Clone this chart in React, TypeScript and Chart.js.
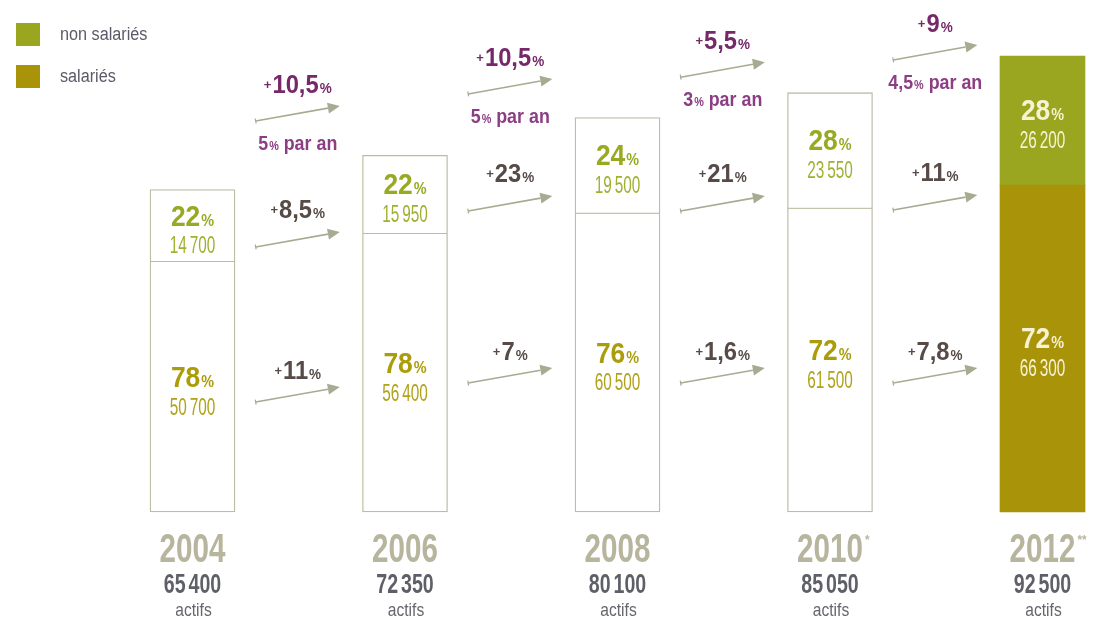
import React, { useEffect, useRef } from "react";
import { Chart, registerables } from "chart.js";

Chart.register(...registerables);

// ---------- data ----------
const years = ["2004", "2006", "2008", "2010", "2012"];
const yearMarks = ["", "", "", "*", "**"];
const seriesNames = ["non salariés", "salariés"];
const salaries = [50700, 56400, 60500, 61500, 66300];
const nonSalaries = [14700, 15950, 19500, 23550, 26200];
const salariesPct = [78, 78, 76, 72, 72];
const nonSalariesPct = [22, 22, 24, 28, 28];
const totals = [65400, 72350, 80100, 85050, 92500];
const totalGrowth = ["10,5", "10,5", "5,5", "9"];
const yearlyGrowth = ["5", "5", "3", "4,5"];
const nonSalGrowth = ["8,5", "23", "21", "11"];
const salGrowth = ["11", "7", "1,6", "7,8"];
const totalUnit = "actifs";
const perYearText = " par an";

// ---------- layout (annotation anchors, in data units of the y axis) ----------
const topArrowLevels = [79300, 84800, 88200, 91700];
const midArrowLevels = [53750, 61050, 61050, 61250];
const lowArrowLevels = [22300, 26150, 26150, 26150];

// ---------- styles ----------
const FAM = "'Liberation Sans', Arial, 'DejaVu Sans', sans-serif";
const C_NONSAL = "#9aa61f";
const C_SAL = "#a99309";
const C_OUTLINE = "#bcbba3";
const C_ARROW = "#a9aa92";
const C_PURPLE = "#762868";
const C_PURPLE_L = "#8b3e83";
const C_DARK = "#574b47";
const C_YEAR = "#b8b59e";
const C_TOTAL = "#5f5f68";
const C_ACTIFS = "#66666d";
const C_LEGEND = "#5c5a68";
const C_NS_PCT = "#98aa22";
const C_NS_NUM = "#a0b132";
const C_S_PCT = "#ab9c0a";
const C_S_NUM = "#b0a21a";
const C_FILLED_TXT = "#f6f2d2";

type Part = { t: string; size: number; bold?: boolean; color: string; sx?: number; dy?: number; gap?: number };

function partFont(p: Part) {
  return `${p.bold ? "bold " : ""}${p.size}px ${FAM}`;
}

function drawRich(ctx: CanvasRenderingContext2D, parts: Part[], x: number, baseline: number, align: "center" | "left" = "center") {
  ctx.save();
  const widths = parts.map((p) => {
    ctx.font = partFont(p);
    return ctx.measureText(p.t).width * (p.sx ?? 1) + (p.gap ?? 0);
  });
  const total = widths.reduce((a, b) => a + b, 0);
  const left = align === "center" ? x - total / 2 : x;
  let cx = left;
  ctx.textAlign = "left";
  ctx.textBaseline = "alphabetic";
  parts.forEach((p, i) => {
    ctx.font = partFont(p);
    ctx.fillStyle = p.color;
    ctx.save();
    ctx.translate(cx + (p.gap ?? 0), baseline + (p.dy ?? 0));
    ctx.scale(p.sx ?? 1, 1);
    ctx.fillText(p.t, 0, 0);
    ctx.restore();
    cx += widths[i];
  });
  ctx.restore();
  return { left, right: left + total };
}

// French number split into thousand groups, drawn with a thin gap
function numParts(n: number, base: Omit<Part, "t" | "gap">, gap: number): Part[] {
  const s = String(n);
  const groups: string[] = [];
  let rest = s;
  while (rest.length > 3) {
    groups.unshift(rest.slice(-3));
    rest = rest.slice(0, -3);
  }
  groups.unshift(rest);
  return groups.map((g, i) => ({ ...base, t: g, gap: i === 0 ? 0 : gap }));
}

function drawArrow(ctx: CanvasRenderingContext2D, x1: number, y1: number, x2: number, y2: number) {
  ctx.save();
  ctx.strokeStyle = C_ARROW;
  ctx.fillStyle = C_ARROW;
  ctx.lineWidth = 1.6;
  const ang = Math.atan2(y2 - y1, x2 - x1);
  const headLen = 12;
  const headW = 5.5;
  const bx = x2 - headLen * Math.cos(ang);
  const by = y2 - headLen * Math.sin(ang);
  ctx.beginPath();
  ctx.moveTo(x1, y1);
  ctx.lineTo(bx, by);
  ctx.stroke();
  ctx.beginPath();
  ctx.moveTo(x2, y2);
  ctx.lineTo(bx + headW * Math.sin(ang), by - headW * Math.cos(ang));
  ctx.lineTo(bx - headW * Math.sin(ang), by + headW * Math.cos(ang));
  ctx.closePath();
  ctx.fill();
  ctx.beginPath();
  ctx.moveTo(x1 + 2.5 * Math.sin(ang), y1 - 2.5 * Math.cos(ang));
  ctx.lineTo(x1 - 2.5 * Math.sin(ang), y1 + 2.5 * Math.cos(ang));
  ctx.lineWidth = 1.2;
  ctx.stroke();
  ctx.restore();
}

function growthParts(v: string, color: string): Part[] {
  return [
    { t: "+", size: 13, bold: true, color, dy: -4 },
    { t: v, size: 25, bold: true, color, sx: 0.95, gap: 1 },
    { t: "%", size: 15, bold: true, color, sx: 0.9, gap: 1 },
  ];
}

const overlay = {
  id: "overlay",
  afterDatasetsDraw(chart: any) {
    const ctx: CanvasRenderingContext2D = chart.ctx;
    const xs = chart.scales.x;
    const ys = chart.scales.y;
    const last = years.length - 1;

    // legend
    const legendColors = [C_NONSAL, C_SAL];
    seriesNames.forEach((name, i) => {
      const top = 23 + i * 42;
      ctx.fillStyle = legendColors[i];
      ctx.fillRect(16, top, 24, 23);
      drawRich(ctx, [{ t: name, size: 18, color: C_LEGEND, sx: 0.9 }], 60, top + 17, "left");
    });

    years.forEach((yr, i) => {
      const cx = xs.getPixelForValue(i);
      const y0 = ys.getPixelForValue(0);
      const ySal = ys.getPixelForValue(salaries[i]);
      const yTop = ys.getPixelForValue(salaries[i] + nonSalaries[i]);
      const midS = (y0 + ySal) / 2;
      const midN = (ySal + yTop) / 2;
      const filled = i === last;
      const col = (c: string) => (filled ? C_FILLED_TXT : c);

      // salariés segment
      drawRich(ctx, [
        { t: String(salariesPct[i]), size: 30, bold: true, color: col(C_S_PCT), sx: 0.88 },
        { t: "%", size: 16, bold: true, color: col(C_S_PCT), sx: 0.9, gap: 1 },
      ], cx, midS - 11 + 0.358 * 30);
      drawRich(ctx, numParts(salaries[i], { size: 24, color: col(C_S_NUM), sx: 0.64 }, 3), cx, midS + 19 + 0.358 * 24);
      // non salariés segment
      drawRich(ctx, [
        { t: String(nonSalariesPct[i]), size: 30, bold: true, color: col(C_NS_PCT), sx: 0.88 },
        { t: "%", size: 16, bold: true, color: col(C_NS_PCT), sx: 0.9, gap: 1 },
      ], cx, midN - 11 + 0.358 * 30);
      drawRich(ctx, numParts(nonSalaries[i], { size: 24, color: col(C_NS_NUM), sx: 0.64 }, 3), cx, midN + 19 + 0.358 * 24);

      // category labels
      const r = drawRich(ctx, [{ t: yr, size: 40, bold: true, color: C_YEAR, sx: 0.74 }], cx, 562);
      if (yearMarks[i]) {
        drawRich(ctx, [{ t: yearMarks[i], size: 13, bold: true, color: C_YEAR, sx: 0.9 }], r.right + 2, 544, "left");
      }
      drawRich(ctx, numParts(totals[i], { size: 28, bold: true, color: C_TOTAL, sx: 0.7 }, 3), cx, 593);
      drawRich(ctx, [{ t: totalUnit, size: 19, color: C_ACTIFS, sx: 0.82 }], cx + 1, 616);
    });

    // growth arrows
    for (let g = 0; g < years.length - 1; g++) {
      const xa = xs.getPixelForValue(g);
      const xb = xs.getPixelForValue(g + 1);
      const mid = (xa + xb) / 2 - 1;
      const half = (xb - xa) * 0.198;
      const rows: { level: number; label: Part[]; labelOff: number }[] = [
        { level: topArrowLevels[g], label: growthParts(totalGrowth[g], C_PURPLE), labelOff: -28 },
        { level: midArrowLevels[g], label: growthParts(nonSalGrowth[g], C_DARK), labelOff: -29 },
        { level: lowArrowLevels[g], label: growthParts(salGrowth[g], C_DARK), labelOff: -23 },
      ];
      rows.forEach((row, k) => {
        const ys1 = ys.getPixelForValue(row.level);
        drawArrow(ctx, mid - half, ys1, mid + half, ys1 - 15);
        drawRich(ctx, row.label, mid, ys1 + row.labelOff);
        if (k === 0) {
          drawRich(ctx, [
            { t: yearlyGrowth[g], size: 21, bold: true, color: C_PURPLE_L, sx: 0.85 },
            { t: "%", size: 12, bold: true, color: C_PURPLE_L, sx: 0.9, gap: 1 },
            { t: perYearText, size: 21, bold: true, color: C_PURPLE_L, sx: 0.85 },
          ], mid, ys1 + 29);
        }
      });
    }
  },
};

export default function App() {
  const ref = useRef<HTMLCanvasElement | null>(null);
  useEffect(() => {
    if (!ref.current) return;
    const last = years.length - 1;
    const chart = new Chart(ref.current, {
      type: "bar",
      data: {
        labels: years,
        datasets: [
          {
            label: seriesNames[1],
            data: salaries,
            backgroundColor: years.map((_, i) => (i === last ? C_SAL : "#ffffff")),
            borderColor: C_OUTLINE,
            borderWidth: years.map((_, i) => (i === last ? 0 : 1.3)),
            borderSkipped: "top",
            barThickness: 85,
            stack: "s",
            clip: false,
          } as any,
          {
            label: seriesNames[0],
            data: nonSalaries,
            backgroundColor: years.map((_, i) => (i === last ? C_NONSAL : "#ffffff")),
            borderColor: C_OUTLINE,
            borderWidth: years.map((_, i) => (i === last ? 0 : 1.3)),
            borderSkipped: false,
            barThickness: 85,
            stack: "s",
            clip: false,
          } as any,
        ],
      },
      options: {
        responsive: false,
        animation: false,
        events: [],
        layout: { padding: { left: 192.5, right: 60.5, top: 19, bottom: 108 } },
        plugins: { legend: { display: false }, tooltip: { enabled: false }, title: { display: false } },
        scales: {
          x: { type: "category", offset: false, stacked: true, display: false },
          y: { stacked: true, min: 0, max: 100000, display: false },
        },
      },
      plugins: [overlay],
    });
    return () => chart.destroy();
  }, []);
  return (
    <div style={{ position: "fixed", left: 0, top: 0, width: 1103, height: 620, background: "#ffffff" }}>
      <canvas ref={ref} width={1103} height={620} style={{ display: "block", width: 1103, height: 620 }} />
    </div>
  );
}
